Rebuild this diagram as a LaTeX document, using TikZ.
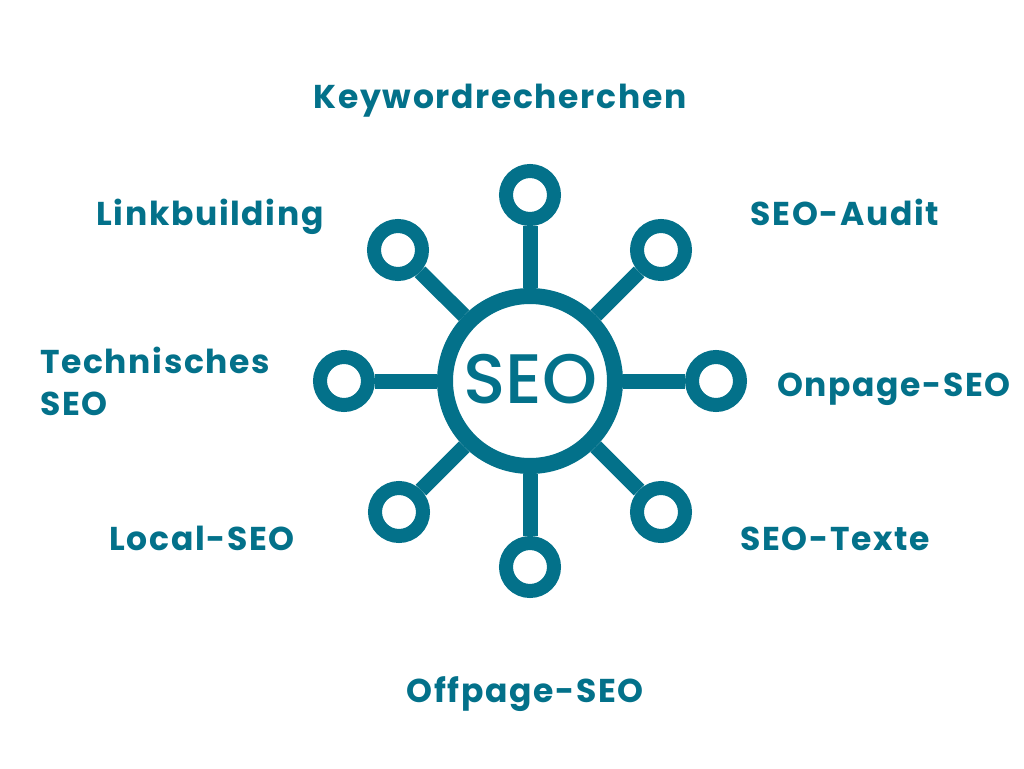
\documentclass[tikz,border=0pt]{standalone}
\usepackage{fontspec}
\newfontfamily\lblfont{Poppins}[UprightFont=* Bold, BoldFont=* Bold, LetterSpace=5]
\newfontfamily\seofont{Poppins}[UprightFont=* Medium]
\definecolor{seoteal}{RGB}{3,113,138}
\begin{document}
\begin{tikzpicture}[x=1pt,y=-1pt,
  hub/.style={circle,draw=seoteal,line width=16pt,minimum size=170pt,inner sep=0pt},
  leaf/.style={circle,draw=seoteal,line width=14pt,minimum size=48pt,inner sep=0pt},
  spoke/.style={draw=seoteal,line width=15pt},
  lbl/.style={anchor=base,text=seoteal,inner sep=0pt,font=\lblfont\fontsize{33}{42}\selectfont}]
\useasboundingbox (0,0) rectangle (1024,768);
\node[hub] (c) at (530,381) {};
\node[text=seoteal,font=\seofont\fontsize{70}{70}\selectfont,anchor=base,inner sep=0pt] (seo) at (530,403) {SEO};
\node[leaf] (n) at (530,195) {};
\node[leaf] (s) at (530,567) {};
\node[leaf] (w) at (344,381) {};
\node[leaf] (e) at (716,381) {};
\node[leaf] (nw) at (398,250) {};
\node[leaf] (ne) at (661,250) {};
\node[leaf] (sw) at (399,512) {};
\node[leaf] (se) at (661,512) {};
\foreach \t in {n,s,w,e,nw,ne,sw,se} \draw[spoke] (c) -- (\t);
\node[lbl] (kw) at (500,108) {Keywordrecherchen};
\node[lbl] (lb) at (210,225) {Linkbuilding};
\node[lbl] (au) at (845,225) {SEO-Audit};
\node[lbl,anchor=base west] (te1) at (40,373) {Technisches};
\node[lbl,anchor=base west] (te2) at (40,415) {SEO};
\node[lbl] (op) at (894,396) {Onpage-SEO};
\node[lbl] (lo) at (202,550) {Local-SEO};
\node[lbl] (tx) at (835,550) {SEO-Texte};
\node[lbl] (of) at (525,702) {Offpage-SEO};
\end{tikzpicture}
\end{document}
